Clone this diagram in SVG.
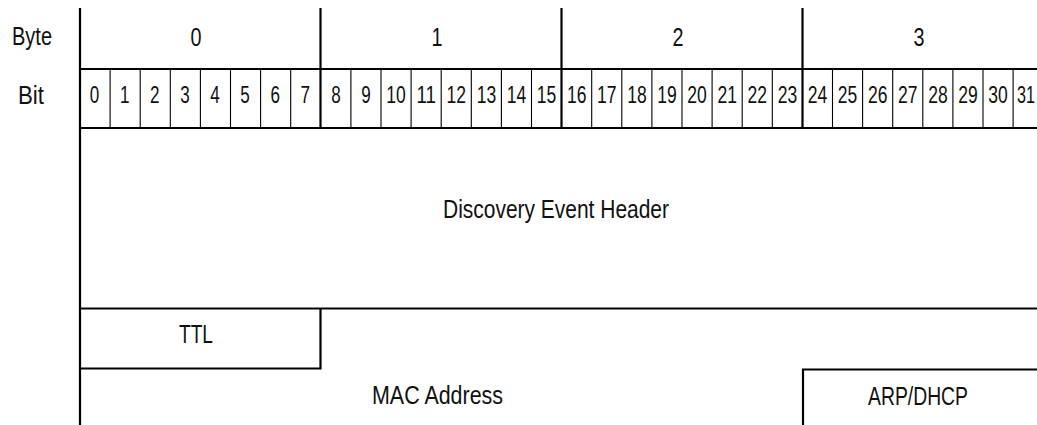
<svg xmlns="http://www.w3.org/2000/svg" width="1037" height="425" viewBox="0 0 1037 425">
<style>
text{font-family:"Liberation Sans",Arial,sans-serif;fill:#111;text-anchor:middle}
.lbl{font-size:25px}
.bn text{font-size:23px}
.fld{font-size:25px}
.thick{stroke:#000;stroke-width:2.2;fill:none}
.thin{stroke:#000;stroke-width:1.1;fill:none}
</style>
<rect width="1037" height="425" fill="#fff"/>
<g id="row-labels">
<text class="lbl" x="32" y="45" textLength="40" lengthAdjust="spacingAndGlyphs">Byte</text>
<text class="lbl" x="31" y="104" textLength="26" lengthAdjust="spacingAndGlyphs">Bit</text>
</g>
<g id="byte-row">
<line class="thick" x1="80" y1="8" x2="80" y2="425"/>
<line class="thick" x1="320.5" y1="8" x2="320.5" y2="128"/>
<line class="thick" x1="561.5" y1="8" x2="561.5" y2="128"/>
<line class="thick" x1="802.5" y1="8" x2="802.5" y2="128"/>
<line class="thick" x1="80" y1="69" x2="1037" y2="69"/>
<text class="lbl" x="196" y="46" textLength="11" lengthAdjust="spacingAndGlyphs">0</text>
<text class="lbl" x="437" y="46" textLength="11" lengthAdjust="spacingAndGlyphs">1</text>
<text class="lbl" x="678" y="46" textLength="11" lengthAdjust="spacingAndGlyphs">2</text>
<text class="lbl" x="919" y="46" textLength="11" lengthAdjust="spacingAndGlyphs">3</text>
</g>
<g id="bit-row">
<path class="thin" d="M110.1 69V128M140.2 69V128M170.3 69V128M200.4 69V128M230.5 69V128M260.6 69V128M290.7 69V128M350.9 69V128M381 69V128M411.1 69V128M441.2 69V128M471.3 69V128M501.4 69V128M531.5 69V128M591.7 69V128M621.8 69V128M651.9 69V128M682 69V128M712.1 69V128M742.2 69V128M772.3 69V128M832.5 69V128M862.6 69V128M892.7 69V128M922.8 69V128M952.9 69V128M983 69V128M1013.1 69V128"/>
<line class="thick" x1="80" y1="128" x2="1037" y2="128"/>
<g class="bn">
<text x="94.5" y="103" textLength="9.5" lengthAdjust="spacingAndGlyphs">0</text>
<text x="124.7" y="103" textLength="9.5" lengthAdjust="spacingAndGlyphs">1</text>
<text x="154.8" y="103" textLength="9.5" lengthAdjust="spacingAndGlyphs">2</text>
<text x="184.9" y="103" textLength="9.5" lengthAdjust="spacingAndGlyphs">3</text>
<text x="215" y="103" textLength="9.5" lengthAdjust="spacingAndGlyphs">4</text>
<text x="245.1" y="103" textLength="9.5" lengthAdjust="spacingAndGlyphs">5</text>
<text x="275.2" y="103" textLength="9.5" lengthAdjust="spacingAndGlyphs">6</text>
<text x="305.3" y="103" textLength="9.5" lengthAdjust="spacingAndGlyphs">7</text>
<text x="335.9" y="103" textLength="9.5" lengthAdjust="spacingAndGlyphs">8</text>
<text x="366" y="103" textLength="9.5" lengthAdjust="spacingAndGlyphs">9</text>
<text x="396.1" y="103" textLength="19.5" lengthAdjust="spacingAndGlyphs">10</text>
<text x="426.2" y="103" textLength="19.5" lengthAdjust="spacingAndGlyphs">11</text>
<text x="456.3" y="103" textLength="19.5" lengthAdjust="spacingAndGlyphs">12</text>
<text x="486.4" y="103" textLength="19.5" lengthAdjust="spacingAndGlyphs">13</text>
<text x="516.5" y="103" textLength="19.5" lengthAdjust="spacingAndGlyphs">14</text>
<text x="546.6" y="103" textLength="19.5" lengthAdjust="spacingAndGlyphs">15</text>
<text x="576.7" y="103" textLength="19.5" lengthAdjust="spacingAndGlyphs">16</text>
<text x="606.8" y="103" textLength="19.5" lengthAdjust="spacingAndGlyphs">17</text>
<text x="636.9" y="103" textLength="19.5" lengthAdjust="spacingAndGlyphs">18</text>
<text x="667" y="103" textLength="19.5" lengthAdjust="spacingAndGlyphs">19</text>
<text x="697.1" y="103" textLength="19.5" lengthAdjust="spacingAndGlyphs">20</text>
<text x="727.2" y="103" textLength="19.5" lengthAdjust="spacingAndGlyphs">21</text>
<text x="757.3" y="103" textLength="19.5" lengthAdjust="spacingAndGlyphs">22</text>
<text x="787.4" y="103" textLength="19.5" lengthAdjust="spacingAndGlyphs">23</text>
<text x="817.5" y="103" textLength="19.5" lengthAdjust="spacingAndGlyphs">24</text>
<text x="847.6" y="103" textLength="19.5" lengthAdjust="spacingAndGlyphs">25</text>
<text x="877.7" y="103" textLength="19.5" lengthAdjust="spacingAndGlyphs">26</text>
<text x="907.8" y="103" textLength="19.5" lengthAdjust="spacingAndGlyphs">27</text>
<text x="937.9" y="103" textLength="19.5" lengthAdjust="spacingAndGlyphs">28</text>
<text x="968" y="103" textLength="19.5" lengthAdjust="spacingAndGlyphs">29</text>
<text x="998.1" y="103" textLength="19.5" lengthAdjust="spacingAndGlyphs">30</text>
<text x="1035" y="103" textLength="18" lengthAdjust="spacingAndGlyphs" style="text-anchor:end">31</text>
</g>
</g>
<g id="discovery-event-header">
<text class="fld" x="556" y="218" textLength="226" lengthAdjust="spacingAndGlyphs">Discovery Event Header</text>
<line class="thick" x1="80" y1="308.5" x2="1037" y2="308.5"/>
</g>
<g id="ttl">
<path class="thick" d="M80 368.5H320.5V308.5"/>
<text class="fld" x="196" y="343" textLength="34" lengthAdjust="spacingAndGlyphs">TTL</text>
</g>
<g id="mac-address">
<text class="fld" x="437.5" y="404" textLength="131" lengthAdjust="spacingAndGlyphs">MAC Address</text>
</g>
<g id="arp-dhcp">
<path class="thick" d="M803 425V369.5H1037"/>
<text class="fld" x="918" y="405" textLength="100" lengthAdjust="spacingAndGlyphs">ARP/DHCP</text>
</g>
<g id="connectors"/>
</svg>
